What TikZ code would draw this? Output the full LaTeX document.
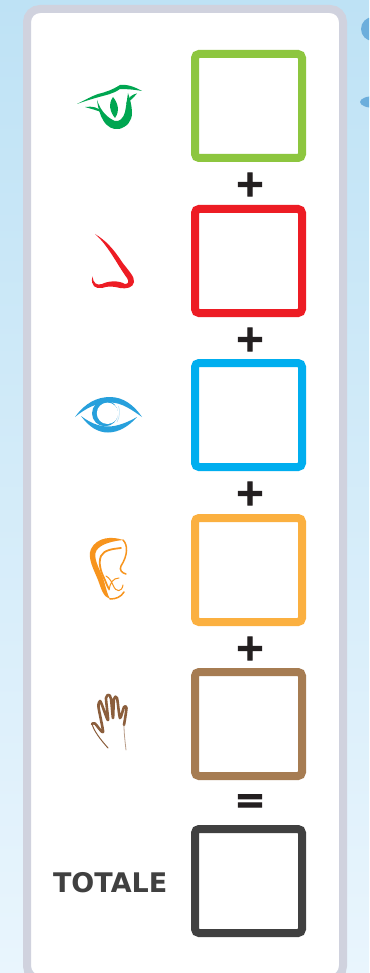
\documentclass[tikz,border=0pt]{standalone}
\usepackage{fontspec}
\setmainfont{DejaVu Sans}
\newfontfamily\signfont[FakeBold=3]{DejaVu Sans Bold}
\usetikzlibrary{positioning,calc}
\definecolor{skytop}{RGB}{190,226,245}
\definecolor{skylow}{RGB}{233,245,253}
\definecolor{blob}{RGB}{107,174,220}
\definecolor{panel}{RGB}{208,210,222}
\definecolor{ink}{RGB}{35,31,32}
\definecolor{tasteb}{RGB}{141,198,63}
\definecolor{smellb}{RGB}{237,28,36}
\definecolor{sightb}{RGB}{0,174,239}
\definecolor{hearb}{RGB}{251,176,64}
\definecolor{touchb}{RGB}{166,124,82}
\definecolor{totalb}{RGB}{64,64,64}
\definecolor{tastei}{RGB}{0,166,81}
\definecolor{sighti}{RGB}{39,160,220}
\definecolor{heari}{RGB}{247,148,29}
\definecolor{touchi}{RGB}{139,94,60}
\tikzset{
  tally/.style={draw=#1, line width=8pt, rounded corners=4pt, fill=white, minimum width=107pt, minimum height=104pt, inner sep=0pt},
  sign/.style={font=\fontsize{37}{37}\signfont, text=ink, inner sep=0pt},
  sumlbl/.style={font=\fontsize{27}{27}\selectfont\bfseries, text=totalb, inner sep=0pt},
  thinline/.style={draw=#1, line width=1.5pt, line cap=round, line join=round, fill=none},
  fingers/.style={draw=touchi, line width=2.6pt, line cap=round, line join=round, fill=none},
}
\begin{document}
\begin{tikzpicture}[x=1pt, y=-1pt]
  \useasboundingbox (0,0) rectangle (369,973);
  \clip (0,0) rectangle (369,973);
  \shade[top color=skytop, bottom color=skylow] (0,0) rectangle (369,973);
  \fill[blob] (373,29) circle (12);
  \fill[blob] (375,102) ellipse (15 and 6);
  \draw[panel, line width=8pt, fill=white, rounded corners=13pt] (27,9) rectangle (343,979);

  % one box per sense, with the signs half way between them
  \node[tally=tasteb] (taste) at (248.5,106) {};
  \node[tally=smellb] (smell) at (248.5,261) {};
  \node[tally=sightb] (sight) at (248.5,415) {};
  \node[tally=hearb] (hear) at (248.5,570) {};
  \node[tally=touchb] (touch) at (248.5,724) {};
  \node[tally=totalb] (total) at (248.5,881) {};
  \node[sign] (plusa) at ($(taste)!0.5!(smell)+(1.5,1)$) {+};
  \node[sign] (plusb) at ($(smell)!0.5!(sight)+(1.5,1.5)$) {+};
  \node[sign] (plusc) at ($(sight)!0.5!(hear)+(1.5,1)$) {+};
  \node[sign] (plusd) at ($(hear)!0.5!(touch)+(1.5,1.5)$) {+};
  \node[sign] (equal) at ($(touch)!0.5!(total)+(1.5,1)$) {=};
  \node[sumlbl, left=23.5pt of total, yshift=-2pt] (totale) {TOTALE};

  % taste
  \fill[tastei] (77,104) .. controls (85,100) and (92,96) .. (98,94) .. controls (106,92) and (112,90) .. (120,85) .. controls (127,84) and (135,87) .. (142,91) .. controls (134,89.5) and (126,89) .. (120,89) .. controls (113,94) and (106,95) .. (99,97) .. controls (92,99) and (85,101) .. (77,104) -- cycle;
  \fill[tastei] (97,100) .. controls (98,108) and (100,115) .. (103,120) .. controls (107,127) and (113,130) .. (119,129) .. controls (127,127) and (132,121) .. (132,113) .. controls (132,106) and (130,99) .. (128,93) .. controls (127,100) and (126,107) .. (125,112) .. controls (123,119) and (119,122) .. (115,121) .. controls (108,118) and (101,112) .. (97,100) -- cycle;
  \fill[tastei] (85,107) .. controls (92,106) and (99,107) .. (103,113) .. controls (97,110) and (91,109) .. (85,107) -- cycle;
  \fill[tastei] (137,93.5) .. controls (133,94) and (128,97) .. (126,104) .. controls (130,101) and (134,97) .. (137,93.5) -- cycle;
  \fill[tastei] (113,97) .. controls (108,104) and (110,112) .. (115,118) .. controls (120,111) and (118,103) .. (113,97) -- cycle;

  % smell
  \fill[smellb] (95,234) .. controls (105,240) and (113,248) .. (122,262) .. controls (128,270) and (135,277) .. (134,282) .. controls (133,288) and (126,289) .. (120,288) .. controls (112,286) and (108,286) .. (102,288) .. controls (96,289) and (90,286) .. (92.5,276.5) .. controls (93,283) and (97,286) .. (102,284) .. controls (108,281) and (118,280) .. (125,284) .. controls (129,284) and (129,281) .. (127,278) .. controls (118,266) and (108,245) .. (95,234) -- cycle;

  % sight
  \fill[sighti] (75,417) .. controls (85,403) and (97,397) .. (110,397) .. controls (123,397) and (134,405) .. (142,417) .. controls (132,410) and (122,402.5) .. (110,402.5) .. controls (97,402.5) and (86,408) .. (75,417) -- cycle;
  \fill[sighti] (81,416) .. controls (89,427) and (98,432.5) .. (108,432.5) .. controls (119,432.5) and (129,426) .. (137,417) .. controls (128,422) and (118,426.5) .. (108,426.5) .. controls (98,426.5) and (89,422) .. (81,416) -- cycle;
  \fill[sighti] (105,413.3) circle (13);
  \fill[white] (107.5,413.3) circle (10.7);
  \draw[sighti!30, line width=0.6pt] (118.5,406) .. controls (120,410) and (120,417) .. (117,422);

  % hearing
  \fill[heari] (123,540) .. controls (112,536) and (97,537) .. (91,549) .. controls (87,558) and (94,570) .. (98,580) .. controls (101,588) and (103,597) .. (110,599) .. controls (107,594) and (106,587) .. (103,578) .. controls (100,570) and (94,560) .. (95.5,553) .. controls (97,546) and (108,541.5) .. (123,540) -- cycle;
  \draw[thinline=heari] (110,599) .. controls (116,599) and (121,597) .. (124,592);
  \draw[thinline=heari] (123,540) .. controls (128,545) and (128,555) .. (121,566) .. controls (119,570) and (122,573) .. (126,574);
  \draw[thinline=heari, line width=1.8pt] (121,548) .. controls (112,549) and (104,550) .. (101,556) .. controls (98,563) and (101,572) .. (104,578) .. controls (106,582) and (107,586) .. (109,589);
  \draw[thinline=heari, line width=1pt] (109,590) .. controls (110,583) and (113,578) .. (119,578) (106,576) .. controls (110,578) and (112,583) .. (113,585) .. controls (116,593) and (122,592) .. (123,585);

  % touch
  \draw[fingers] plot[smooth, tension=0.45] coordinates {(92,724) (95,723.5) (103,732) (98.5,707) (100,701) (102,705) (108,720) (106,698) (109,695) (111,699) (113,718) (114,699) (117,698) (120,718) (124,707) (126.5,708) (124,725)};
  \draw[thinline=touchi, line width=1pt] (92,724) .. controls (94,731) and (100,739) .. (108,748);
  \draw[thinline=touchi!60, line width=0.8pt] (124,725) .. controls (124,733) and (125,741) .. (126,750);
\end{tikzpicture}
\end{document}
